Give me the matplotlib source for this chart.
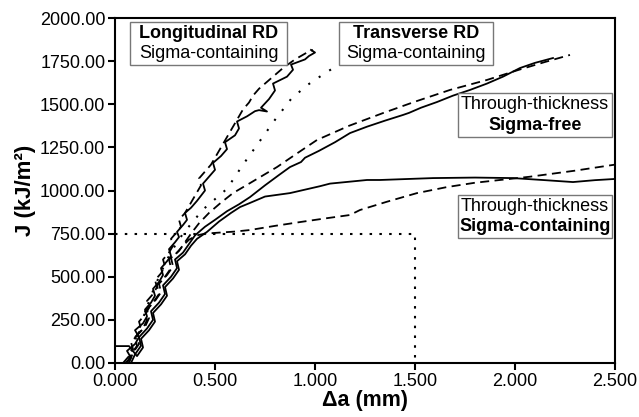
import matplotlib
matplotlib.use("Agg")
import matplotlib.pyplot as plt
from matplotlib.patches import Rectangle

plt.rcParams['font.family'] = ['Liberation Sans', 'DejaVu Sans']

# Longitudinal RD, sigma-containing (solid + dashed)
l_solid_x = [0.05, 0.08, 0.06, 0.10, 0.12, 0.10, 0.14, 0.16, 0.15, 0.18,
             0.20, 0.19, 0.22, 0.24, 0.23, 0.26, 0.28, 0.27, 0.30, 0.32,
             0.31, 0.34, 0.36, 0.35, 0.38, 0.41, 0.43, 0.45, 0.44, 0.47,
             0.50, 0.49, 0.53, 0.56, 0.55, 0.60, 0.62, 0.61, 0.66, 0.70,
             0.72, 0.76, 0.73, 0.77, 0.80, 0.79, 0.86, 0.89, 0.88, 0.95,
             0.97, 1.00, 0.98]
l_solid_y = [0, 30, 70, 110, 150, 190, 230, 270, 310, 350,
             390, 430, 470, 510, 550, 590, 620, 660, 700, 730,
             760, 800, 830, 870, 900, 940, 970, 1000, 1040, 1080,
             1120, 1160, 1200, 1240, 1280, 1320, 1360, 1400, 1430, 1460,
             1466, 1458, 1480, 1530, 1580, 1620, 1660, 1700, 1730, 1760,
             1780, 1800, 1815]

l_dash_x = [0.04, 0.07, 0.09, 0.08, 0.11, 0.13, 0.12, 0.15, 0.17, 0.16,
            0.19, 0.21, 0.20, 0.23, 0.25, 0.24, 0.27, 0.29, 0.28, 0.31,
            0.33, 0.32, 0.35, 0.37, 0.39, 0.41, 0.43, 0.42, 0.45, 0.48,
            0.50, 0.52, 0.54, 0.56, 0.58, 0.60, 0.62, 0.64, 0.67, 0.69,
            0.72, 0.75, 0.78, 0.81, 0.84, 0.87, 0.90, 0.93, 0.96, 0.99]
l_dash_y = [0, 40, 80, 120, 160, 200, 240, 280, 320, 360,
            400, 440, 480, 520, 560, 600, 640, 680, 720, 760,
            790, 830, 870, 910, 950, 990, 1030, 1070, 1110, 1150,
            1190, 1230, 1270, 1310, 1350, 1390, 1430, 1470, 1510, 1550,
            1590, 1620, 1650, 1680, 1710, 1735, 1760, 1780, 1800, 1815]

# Transverse RD, sigma-containing (dotted)
t_dot_x = [0.06, 0.10, 0.14, 0.18, 0.22, 0.26, 0.30, 0.34, 0.39, 0.44,
           0.50, 0.56, 0.64, 0.72, 0.80, 0.88, 0.96, 1.05, 1.14]
t_dot_y = [0, 130, 260, 390, 500, 600, 680, 750, 820, 890,
           950, 1010, 1150, 1280, 1410, 1530, 1610, 1680, 1745]

# Through-thickness, sigma-free (solid + dashed)
ttf_solid_x = [0.08, 0.10, 0.13, 0.12, 0.16, 0.19, 0.18, 0.22, 0.25, 0.24,
               0.28, 0.31, 0.30, 0.34, 0.37, 0.40, 0.45, 0.50, 0.56, 0.62,
               0.675, 0.75, 0.82, 0.875, 0.93, 0.95, 1.02, 1.10, 1.175, 1.26,
               1.35, 1.44, 1.47, 1.53, 1.61, 1.69, 1.775, 1.86, 1.94, 2.025,
               2.10, 2.19]
ttf_solid_y = [0, 50, 100, 150, 200, 250, 300, 350, 400, 450,
               500, 550, 600, 640, 690, 740, 790, 830, 880, 920,
               962, 1030, 1090, 1136, 1165, 1190, 1230, 1280, 1333, 1370,
               1405, 1438, 1450, 1480, 1513, 1550, 1583, 1620, 1660, 1710,
               1740, 1768]

ttf_dash_x = [0.07, 0.09, 0.12, 0.11, 0.15, 0.17, 0.16, 0.20, 0.23, 0.22,
              0.26, 0.29, 0.28, 0.32, 0.35, 0.38, 0.42, 0.47, 0.53, 0.59,
              0.675, 0.81, 0.91, 1.01, 1.17, 1.34, 1.50, 1.675, 1.86, 2.02,
              2.15, 2.275]
ttf_dash_y = [0, 60, 110, 160, 210, 260, 310, 360, 410, 460,
              510, 560, 610, 650, 700, 750, 810, 870, 930, 985,
              1043, 1136, 1215, 1293, 1375, 1449, 1515, 1583, 1641, 1700,
              1745, 1786]

# Through-thickness, sigma-containing (solid + dashed)
tts_solid_x = [0.00, 0.07, 0.11, 0.14, 0.13, 0.17, 0.20, 0.19, 0.23, 0.26,
               0.25, 0.29, 0.32, 0.31, 0.35, 0.38, 0.41, 0.46, 0.52, 0.58,
               0.625, 0.675, 0.75, 0.875, 1.025, 1.075, 1.26, 1.325, 1.59, 1.80,
               1.99, 2.15, 2.29, 2.40, 2.50]
tts_solid_y = [98, 98, 40, 90, 140, 190, 240, 290, 340, 390,
               440, 490, 540, 590, 630, 680, 720, 760, 820, 870,
               904, 928, 965, 985, 1025, 1040, 1061, 1061, 1072, 1075,
               1072, 1060, 1049, 1060, 1067]

tts_dash_x = [0.06, 0.08, 0.11, 0.10, 0.14, 0.16, 0.15, 0.19, 0.22, 0.21,
              0.25, 0.28, 0.27, 0.31, 0.34, 0.37, 0.41, 0.45, 0.51, 0.60,
              0.675, 0.80, 0.925, 1.05, 1.175, 1.225, 1.36, 1.51, 1.66, 1.80,
              1.925, 2.075, 2.30, 2.50]
tts_dash_y = [0, 50, 100, 150, 200, 250, 300, 350, 400, 450,
              500, 550, 600, 640, 680, 715, 740, 750, 755, 762,
              771, 795, 817, 838, 858, 887, 935, 985, 1020, 1045,
              1061, 1080, 1115, 1150]

# construction lines at J = 750, delta a = 1.5
guide_x = [0.0, 1.5, 1.5]
guide_y = [750, 750, 0]

x_ticks = [0.0, 0.5, 1.0, 1.5, 2.0, 2.5]
y_ticks = [0, 250, 500, 750, 1000, 1250, 1500, 1750, 2000]

fig = plt.figure(figsize=(6.39, 4.17), dpi=100)
ax = fig.add_axes([0.18, 0.1295, 0.7824, 0.8273])

dash = (0, (5, 3))
ax.plot(l_solid_x, l_solid_y, color='black', lw=1.3)
ax.plot(l_dash_x, l_dash_y, color='black', lw=1.3, linestyle=dash)
ax.plot(t_dot_x, t_dot_y, color='black', lw=1.5, linestyle=(0, (1, 5)))
ax.plot(ttf_solid_x, ttf_solid_y, color='black', lw=1.3)
ax.plot(ttf_dash_x, ttf_dash_y, color='black', lw=1.3, linestyle=dash)
ax.plot(tts_solid_x, tts_solid_y, color='black', lw=1.3)
ax.plot(tts_dash_x, tts_dash_y, color='black', lw=1.3, linestyle=dash)
ax.plot(guide_x, guide_y, color='black', lw=1.5, linestyle=(0, (1.2, 3.5)))

ax.set_xlim(0, 2.5)
ax.set_ylim(0, 2000)
ax.set_xticks(x_ticks)
ax.set_yticks(y_ticks)
ax.set_xticklabels(['%.3f' % v for v in x_ticks])
ax.set_yticklabels(['%.2f' % v for v in y_ticks])
ax.tick_params(direction='out', length=5, width=1.5, labelsize=13, pad=2)
for s in ax.spines.values():
    s.set_linewidth(1.5)

ax.set_xlabel('\u0394a (mm)', fontsize=15.5, fontweight='bold', labelpad=0)
ax.set_ylabel('J (kJ/m\u00b2)', fontsize=16, fontweight='bold', labelpad=3)

# label boxes: (x0, y0, width, height, top line, bottom line, bold top?)
boxes = [
    (0.03, 0.864, 0.314, 0.124, 'Longitudinal RD', 'Sigma-containing', True),
    (0.448, 0.864, 0.308, 0.124, 'Transverse RD', 'Sigma-containing', True),
    (0.686, 0.655, 0.308, 0.128, 'Through-thickness', 'Sigma-free', False),
    (0.686, 0.362, 0.308, 0.125, 'Through-thickness', 'Sigma-containing', False),
]
for x0, y0, w, h, top, bottom, bold_top in boxes:
    ax.add_patch(Rectangle((x0, y0), w, h, transform=ax.transAxes,
                           facecolor='white', edgecolor='#777777', lw=1, zorder=3))
    cx = x0 + w / 2
    ax.text(cx, y0 + h * 0.74, top, transform=ax.transAxes, ha='center', va='center',
            fontsize=13, fontweight='bold' if bold_top else 'normal', zorder=4)
    ax.text(cx, y0 + h * 0.27, bottom, transform=ax.transAxes, ha='center', va='center',
            fontsize=13, fontweight='normal' if bold_top else 'bold', zorder=4)

fig.savefig('out.png', dpi=100)
